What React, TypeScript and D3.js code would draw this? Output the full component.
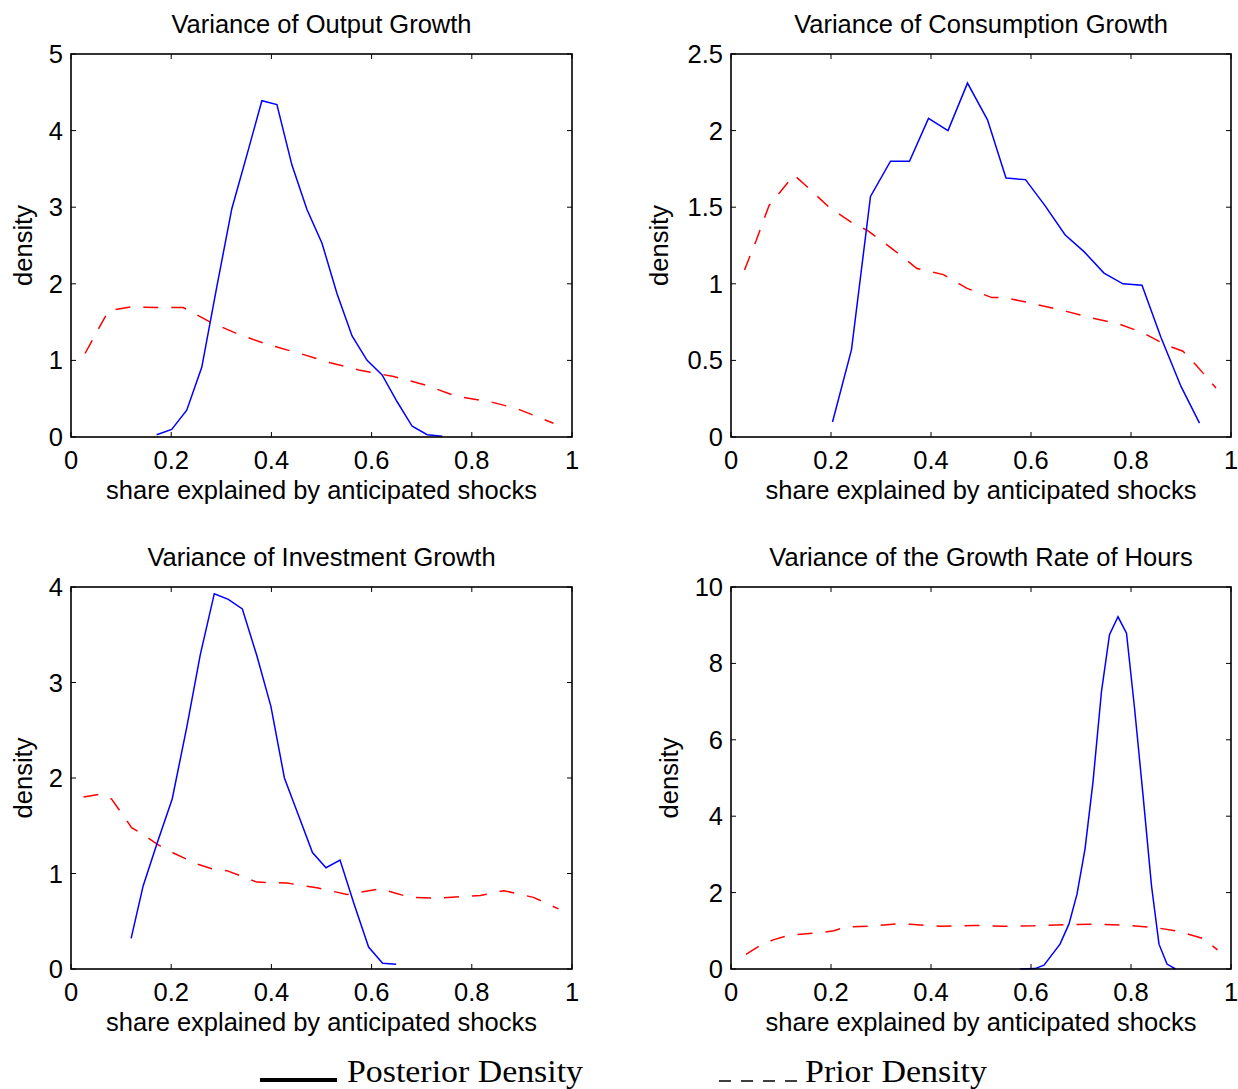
import React from "react";
import * as d3 from "d3";

// share grid + densities
const outputPostX = [0.171, 0.201, 0.231, 0.261, 0.291, 0.321, 0.351, 0.381, 0.411, 0.441, 0.471, 0.501, 0.531, 0.561, 0.591, 0.621, 0.651, 0.681, 0.711, 0.741];
const outputPostY = [0.03, 0.1, 0.35, 0.91, 1.96, 2.98, 3.68, 4.39, 4.34, 3.55, 2.97, 2.53, 1.87, 1.32, 1.0, 0.81, 0.46, 0.14, 0.03, 0.01];
const outputPriorX = [0.028, 0.075, 0.121, 0.171, 0.224, 0.278, 0.331, 0.391, 0.457, 0.517, 0.577, 0.644, 0.707, 0.77, 0.837, 0.89, 0.963];
const outputPriorY = [1.09, 1.65, 1.7, 1.69, 1.69, 1.5, 1.35, 1.21, 1.09, 0.97, 0.87, 0.79, 0.68, 0.53, 0.46, 0.37, 0.18];

const consPostX = [0.203, 0.241, 0.279, 0.319, 0.357, 0.395, 0.434, 0.473, 0.513, 0.55, 0.589, 0.628, 0.668, 0.706, 0.746, 0.784, 0.822, 0.86, 0.9, 0.937];
const consPostY = [0.098, 0.57, 1.57, 1.8, 1.8, 2.08, 2.0, 2.31, 2.07, 1.69, 1.68, 1.51, 1.32, 1.21, 1.07, 1.0, 0.99, 0.65, 0.33, 0.09];
const consPriorX = [0.027, 0.05, 0.076, 0.126, 0.15, 0.196, 0.246, 0.272, 0.322, 0.372, 0.425, 0.472, 0.522, 0.548, 0.605, 0.671, 0.731, 0.774, 0.824, 0.87, 0.904, 0.93, 0.97];
const consPriorY = [1.09, 1.28, 1.51, 1.71, 1.64, 1.5, 1.39, 1.35, 1.23, 1.1, 1.06, 0.97, 0.91, 0.91, 0.87, 0.82, 0.77, 0.74, 0.68, 0.6, 0.56, 0.47, 0.32];

const invPostX = [0.12, 0.144, 0.172, 0.202, 0.231, 0.258, 0.286, 0.314, 0.342, 0.371, 0.399, 0.426, 0.454, 0.482, 0.509, 0.537, 0.565, 0.594, 0.622, 0.649];
const invPostY = [0.32, 0.87, 1.32, 1.78, 2.53, 3.29, 3.93, 3.87, 3.77, 3.28, 2.75, 2.0, 1.61, 1.22, 1.06, 1.14, 0.68, 0.23, 0.06, 0.05];
const invPriorX = [0.025, 0.058, 0.081, 0.121, 0.144, 0.171, 0.194, 0.251, 0.281, 0.311, 0.371, 0.431, 0.491, 0.551, 0.617, 0.677, 0.73, 0.817, 0.864, 0.923, 0.973];
const invPriorY = [1.8, 1.83, 1.78, 1.48, 1.41, 1.31, 1.24, 1.1, 1.05, 1.03, 0.91, 0.9, 0.85, 0.78, 0.84, 0.75, 0.74, 0.77, 0.82, 0.75, 0.63];

const hoursPostX = [0.578, 0.608, 0.626, 0.658, 0.676, 0.692, 0.708, 0.724, 0.741, 0.757, 0.774, 0.791, 0.807, 0.824, 0.841, 0.856, 0.872, 0.889];
const hoursPostY = [0.0, 0.01, 0.1, 0.65, 1.18, 1.96, 3.14, 4.9, 7.27, 8.75, 9.22, 8.79, 6.84, 4.56, 2.18, 0.65, 0.13, 0.0];
const hoursPriorX = [0.03, 0.06, 0.086, 0.116, 0.176, 0.206, 0.229, 0.279, 0.332, 0.359, 0.419, 0.485, 0.545, 0.605, 0.664, 0.731, 0.797, 0.851, 0.897, 0.944, 0.973];
const hoursPriorY = [0.38, 0.63, 0.77, 0.88, 0.95, 1.0, 1.1, 1.12, 1.18, 1.17, 1.12, 1.14, 1.12, 1.13, 1.16, 1.17, 1.14, 1.08, 0.98, 0.8, 0.5];

const xTicks = [0, 0.2, 0.4, 0.6, 0.8, 1];
const titles = [
  "Variance of Output Growth",
  "Variance of Consumption Growth",
  "Variance of Investment Growth",
  "Variance of the Growth Rate of Hours",
];
const yTicksList = [
  [0, 1, 2, 3, 4, 5],
  [0, 0.5, 1, 1.5, 2, 2.5],
  [0, 1, 2, 3, 4],
  [0, 2, 4, 6, 8, 10],
];
const posterior = [
  [outputPostX, outputPostY],
  [consPostX, consPostY],
  [invPostX, invPostY],
  [hoursPostX, hoursPostY],
];
const prior = [
  [outputPriorX, outputPriorY],
  [consPriorX, consPriorY],
  [invPriorX, invPriorY],
  [hoursPriorX, hoursPriorY],
];
const legendLabels = ["Posterior Density", "Prior Density"];

// layout of each axes box
const boxes = [
  { left: 71, right: 572, top: 54, bottom: 437, ylab: 32 },
  { left: 731, right: 1231, top: 54, bottom: 437, ylab: 668 },
  { left: 71, right: 572, top: 587, bottom: 969, ylab: 32 },
  { left: 731, right: 1231, top: 587, bottom: 969, ylab: 678 },
];

const font = "'Liberation Sans', Arial, Helvetica, sans-serif";
const fs = 25.5;
const fmt = (v: number) => String(+v.toFixed(1));

const Panel = ({ i }: { i: number }) => {
  const b = boxes[i];
  const yTicks = yTicksList[i];
  const x = d3.scaleLinear().domain([0, 1]).range([b.left, b.right]);
  const y = d3
    .scaleLinear()
    .domain([0, yTicks[yTicks.length - 1]])
    .range([b.bottom, b.top]);
  const line = d3
    .line<[number, number]>()
    .x((d) => x(d[0]))
    .y((d) => y(d[1]));
  const zip = (xs: number[], ys: number[]) =>
    xs.map((v, k) => [v, ys[k]] as [number, number]);
  const tl = 5;
  const cx = (b.left + b.right) / 2;
  const cy = (b.top + b.bottom) / 2;

  return (
    <g fontFamily={font} fill="#000">
      <text x={cx} y={b.top - 21} textAnchor="middle" fontSize={fs}>
        {titles[i]}
      </text>
      <path
        d={line(zip(prior[i][0], prior[i][1])) || ""}
        fill="none"
        stroke="#ff0000"
        strokeWidth={1.5}
        strokeDasharray="15,13"
      />
      <path
        d={line(zip(posterior[i][0], posterior[i][1])) || ""}
        fill="none"
        stroke="#0000ff"
        strokeWidth={1.5}
      />
      {xTicks.map((t) => (
        <g key={"x" + t}>
          <line x1={x(t)} x2={x(t)} y1={b.bottom} y2={b.bottom - tl} stroke="#000" strokeWidth={1} />
          <line x1={x(t)} x2={x(t)} y1={b.top} y2={b.top + tl} stroke="#000" strokeWidth={1} />
          <text x={x(t)} y={b.bottom + 32} textAnchor="middle" fontSize={fs}>
            {fmt(t)}
          </text>
        </g>
      ))}
      {yTicks.map((t) => (
        <g key={"y" + t}>
          <line x1={b.left} x2={b.left + tl} y1={y(t)} y2={y(t)} stroke="#000" strokeWidth={1} />
          <line x1={b.right} x2={b.right - tl} y1={y(t)} y2={y(t)} stroke="#000" strokeWidth={1} />
          <text x={b.left - 8} y={y(t) + 9} textAnchor="end" fontSize={fs}>
            {fmt(t)}
          </text>
        </g>
      ))}
      <rect
        x={b.left}
        y={b.top}
        width={b.right - b.left}
        height={b.bottom - b.top}
        fill="none"
        stroke="#000"
        strokeWidth={1.6}
      />
      <text x={cx} y={b.bottom + 62} textAnchor="middle" fontSize={fs}>
        share explained by anticipated shocks
      </text>
      <text
        transform={`translate(${b.ylab},${cy}) rotate(-90)`}
        textAnchor="middle"
        fontSize={fs}
      >
        density
      </text>
    </g>
  );
};

const App = () => {
  return (
    <svg
      width={1238}
      height={1089}
      style={{ position: "absolute", left: 0, top: 0, background: "#fff" }}
    >
      <rect width={1238} height={1089} fill="#fff" />
      {boxes.map((_, i) => (
        <Panel key={i} i={i} />
      ))}
      <g fontFamily="'Liberation Serif', 'DejaVu Serif', serif" fontSize={31}>
        <line x1={260} x2={337} y1={1080} y2={1080} stroke="#000" strokeWidth={4} />
        <text x={347} y={1082} textLength={236} lengthAdjust="spacingAndGlyphs">
          {legendLabels[0]}
        </text>
        <line
          x1={719}
          x2={797}
          y1={1081}
          y2={1081}
          stroke="#000"
          strokeWidth={1.6}
          strokeDasharray="12,10"
        />
        <text x={805} y={1082} textLength={182} lengthAdjust="spacingAndGlyphs">
          {legendLabels[1]}
        </text>
      </g>
    </svg>
  );
};

export default App;
